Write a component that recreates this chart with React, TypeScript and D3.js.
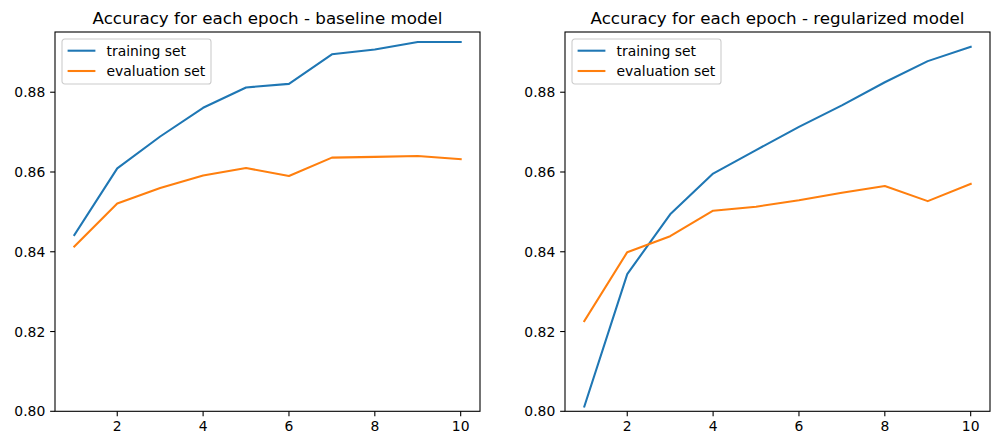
import React from "react";
import * as d3 from "d3";

const epochs = [1, 2, 3, 4, 5, 6, 7, 8, 9, 10];
const baselineTrain = [0.8442, 0.8609, 0.8689, 0.8761, 0.8812, 0.8821, 0.8895, 0.8907, 0.8926, 0.8926];
const baselineEval = [0.8413, 0.8521, 0.8560, 0.8591, 0.8610, 0.8590, 0.8636, 0.8638, 0.8640, 0.8632];
const regTrain = [0.8012, 0.8344, 0.8494, 0.8596, 0.8655, 0.8713, 0.8767, 0.8825, 0.8878, 0.8914];
const regEval = [0.8226, 0.8399, 0.8439, 0.8503, 0.8513, 0.8529, 0.8548, 0.8565, 0.8527, 0.8570];
const xTicks = [2, 4, 6, 8, 10];
const yTicks = [0.8, 0.82, 0.84, 0.86, 0.88];
const seriesNames = ["training set", "evaluation set"];
const titles = ["Accuracy for each epoch - baseline model", "Accuracy for each epoch - regularized model"];

const COLORS = ["#1f77b4", "#ff7f0e"];
const FONT = "DejaVu Sans, sans-serif";
const FS = 13.9;
const TICK = 4.86;

function Panel({ left, title, train, evalS, yMax }: { left: number; title: string; train: number[]; evalS: number[]; yMax: number }) {
  const width = 425;
  const top = 32;
  const bottom = 411.3;
  const x = d3.scaleLinear().domain([0.55, 10.45]).range([left, left + width]);
  const y = d3.scaleLinear().domain([0.8, yMax]).range([bottom, top]);
  const line = d3
    .line<number>()
    .x((_, i) => x(epochs[i]))
    .y((d) => y(d));
  const series = [train, evalS];
  return (
    <g>
      <text x={left + width / 2} y={23.7} textAnchor="middle" fontFamily={FONT} fontSize={16.7} fill="#000">
        {title}
      </text>
      <clipPath id={`clip${left}`}>
        <rect x={left} y={top} width={width} height={bottom - top} />
      </clipPath>
      <g clipPath={`url(#clip${left})`}>
        {series.map((s, k) => (
          <path key={k} d={line(s) || ""} fill="none" stroke={COLORS[k]} strokeWidth={2.08} strokeLinejoin="round" strokeLinecap="square" />
        ))}
      </g>
      <rect x={left} y={top} width={width} height={bottom - top} fill="none" stroke="#000" strokeWidth={1.1} />
      {xTicks.map((t) => (
        <g key={t}>
          <line x1={x(t)} x2={x(t)} y1={bottom} y2={bottom + TICK} stroke="#000" strokeWidth={1.1} />
          <text x={x(t)} y={bottom + 2 * TICK + 10.1} textAnchor="middle" fontFamily={FONT} fontSize={FS} fill="#000">
            {t}
          </text>
        </g>
      ))}
      {yTicks.map((t) => (
        <g key={t}>
          <line x1={left - TICK} x2={left} y1={y(t)} y2={y(t)} stroke="#000" strokeWidth={1.1} />
          <text x={left - 2 * TICK} y={y(t)} dy="0.36em" textAnchor="end" fontFamily={FONT} fontSize={FS} fill="#000">
            {d3.format(".2f")(t)}
          </text>
        </g>
      ))}
      <g transform={`translate(${left + 7},${top + 7})`}>
        <rect x={0} y={0} width={149} height={45} rx={2.8} fill="#fff" fillOpacity={0.8} stroke="#cccccc" strokeWidth={1.1} />
        {seriesNames.map((n, k) => (
          <g key={n} transform={`translate(0,${11.7 + k * 20.3})`}>
            <line x1={5.6} x2={33.4} y1={0} y2={0} stroke={COLORS[k]} strokeWidth={2.08} />
            <text x={44.5} y={0} dy="0.36em" fontFamily={FONT} fontSize={FS} fill="#000">
              {n}
            </text>
          </g>
        ))}
      </g>
    </g>
  );
}

export default function App() {
  return (
    <svg width={992} height={434} style={{ position: "absolute", left: 0, top: 0, background: "#fff" }}>
      <rect width={992} height={434} fill="#fff" />
      <Panel left={55} title={titles[0]} train={baselineTrain} evalS={baselineEval} yMax={0.8951} />
      <Panel left={565} title={titles[1]} train={regTrain} evalS={regEval} yMax={0.8951} />
    </svg>
  );
}
